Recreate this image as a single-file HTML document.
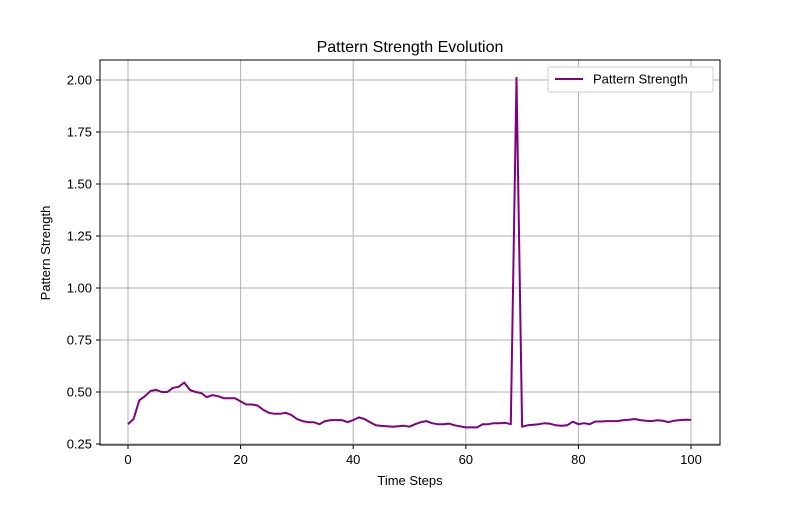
<!DOCTYPE html>
<html><head><meta charset="utf-8"><style>
body{margin:0;background:#fff;font-family:"Liberation Sans","DejaVu Sans",sans-serif}
</style></head><body>
<svg id="chart" width="800" height="500" xmlns="http://www.w3.org/2000/svg">
<rect width="800" height="500" fill="#fff"/>
<g id="grid"></g>
<g id="ticks"></g>
<path id="line" fill="none" stroke="#800080" stroke-width="2" stroke-linejoin="round"/>
<rect x="100" y="60" width="620" height="385" fill="none" stroke="#000" stroke-width="1"/>
<text x="410" y="52" text-anchor="middle" font-size="16">Pattern Strength Evolution</text>
<text x="410" y="485" text-anchor="middle" font-size="13">Time Steps</text>
<text x="50" y="253" text-anchor="middle" font-size="13" transform="rotate(-90 50 253)">Pattern Strength</text>
<g>
<rect x="548" y="67" width="165" height="25" rx="2" fill="#fff" stroke="#ccc"/>
<line x1="555" y1="79" x2="583" y2="79" stroke="#800080" stroke-width="2"/>
<text x="593" y="83.5" font-size="13">Pattern Strength</text>
</g>
</svg>
<script>
const steps=[];for(let i=0;i<=100;i++)steps.push(i);
const strength=[0.345,0.37,0.46,0.48,0.505,0.51,0.50,0.50,0.52,0.525,0.545,0.51,0.50,0.495,0.475,0.485,0.48,0.47,0.47,0.47,0.455,0.44,0.44,0.435,0.415,0.40,0.395,0.395,0.40,0.39,0.37,0.36,0.355,0.355,0.345,0.36,0.365,0.365,0.365,0.355,0.365,0.378,0.37,0.355,0.34,0.337,0.335,0.333,0.335,0.338,0.333,0.345,0.355,0.36,0.35,0.345,0.345,0.348,0.34,0.335,0.33,0.33,0.33,0.345,0.345,0.35,0.35,0.352,0.345,2.01,0.333,0.34,0.343,0.345,0.35,0.347,0.34,0.338,0.34,0.357,0.345,0.35,0.345,0.358,0.358,0.36,0.36,0.36,0.365,0.367,0.37,0.365,0.362,0.36,0.364,0.362,0.355,0.362,0.365,0.367,0.366];
const xTicks=[0,20,40,60,80,100];
const yTicks=[0.25,0.5,0.75,1.0,1.25,1.5,1.75,2.0];
const X=v=>128+v*5.63;
const Y=v=>444-(v-0.25)*208;
const ns="http://www.w3.org/2000/svg";
const g=document.getElementById('grid'),t=document.getElementById('ticks');
function mk(tag,a,p){const e=document.createElementNS(ns,tag);for(const k in a)e.setAttribute(k,a[k]);p.appendChild(e);return e;}
xTicks.forEach(v=>{const x=X(v);
const gl=mk('line',{x1:x,x2:x,y1:60,y2:445,stroke:'#b0b0b0','stroke-width':1},g);


mk('line',{x1:x,x2:x,y1:445,y2:449,stroke:'#000'},t);
const tx=mk('text',{x:x,y:464,'text-anchor':'middle','font-size':13},t);tx.textContent=String(v);

});
yTicks.forEach(v=>{const y=Y(v);
const gl=mk('line',{x1:100,x2:720,y1:y,y2:y,stroke:'#b0b0b0','stroke-width':1},g);


mk('line',{x1:96,x2:100,y1:y,y2:y,stroke:'#000'},t);
const tx=mk('text',{x:92,y:y+4.5,'text-anchor':'end','font-size':13},t);tx.textContent=v.toFixed(2);

});
document.getElementById('line').setAttribute('d',strength.map((v,i)=>(i?'L':'M')+X(steps[i]).toFixed(1)+','+Y(v).toFixed(1)).join(''));
</script>
</body></html>
